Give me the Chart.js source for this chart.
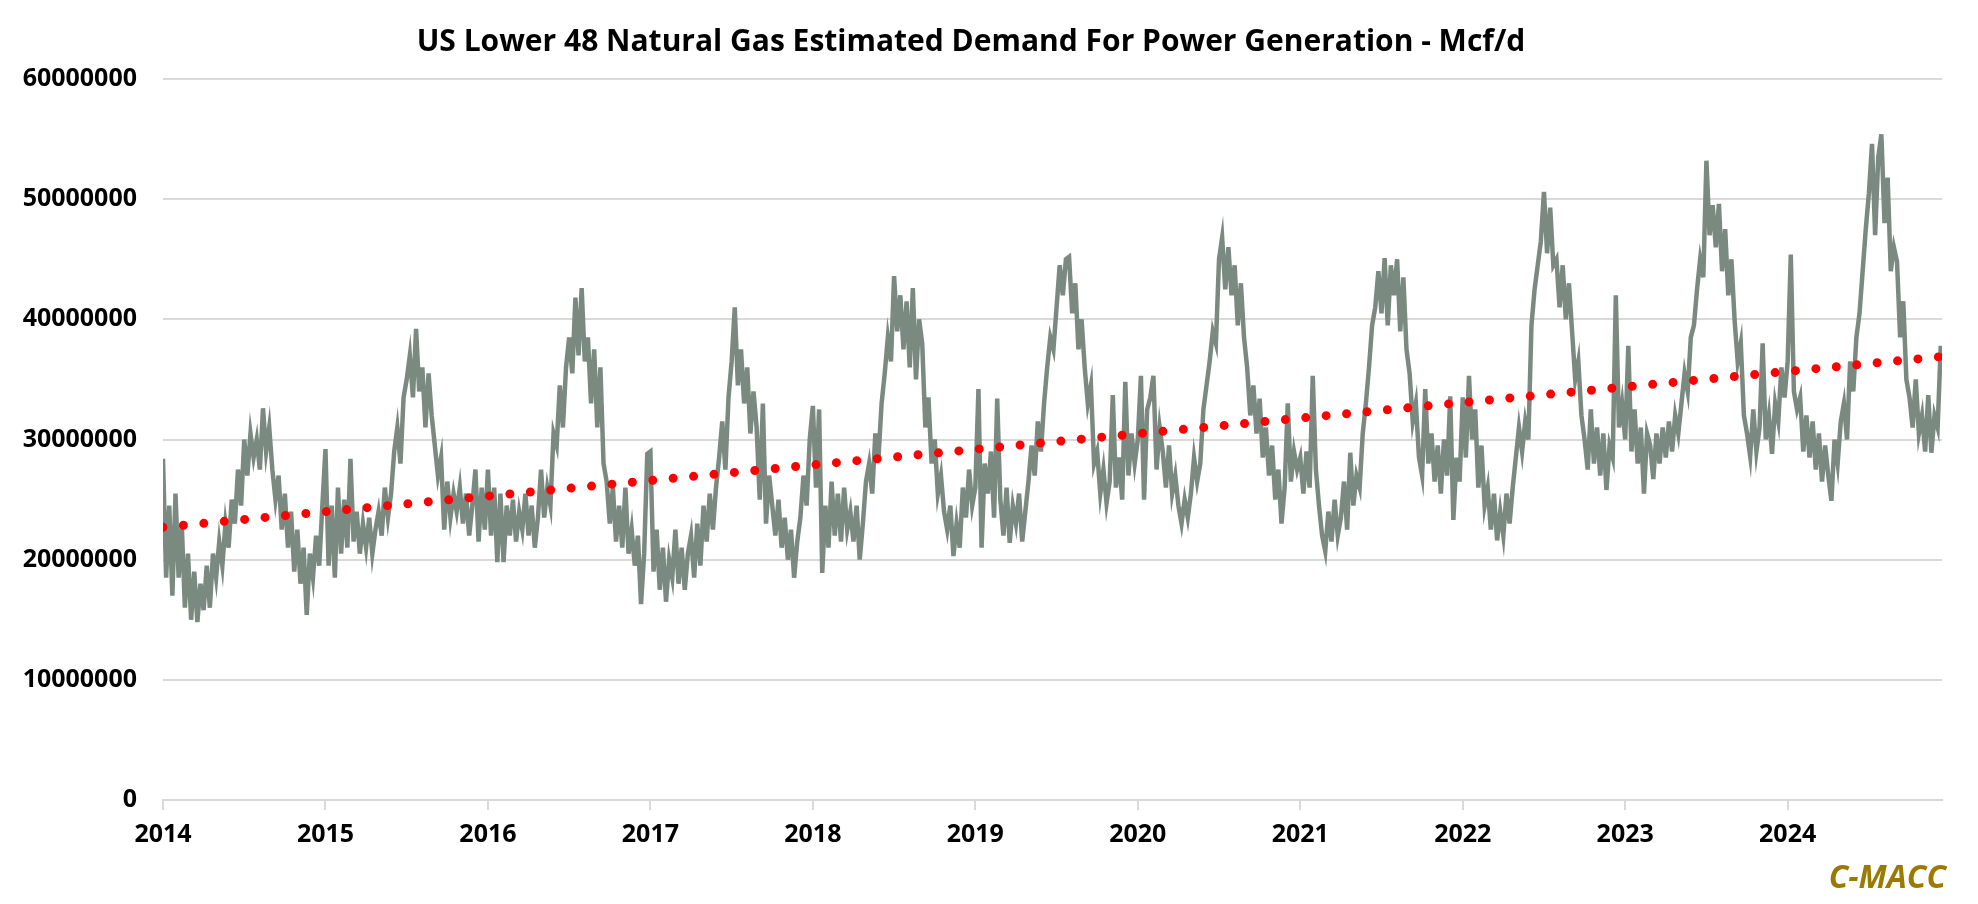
<!DOCTYPE html>
<html>
<head>
<meta charset="utf-8">
<title>US Lower 48 Natural Gas Estimated Demand For Power Generation</title>
<script src="https://cdn.jsdelivr.net/npm/chart.js@4.4.0/dist/chart.umd.min.js"></script>
<style>
  html, body { margin: 0; padding: 0; background: #fff; }
  #wrap { width: 1978px; height: 904px; }
</style>
</head>
<body>
<div id="wrap"><canvas id="gasChart" width="1978" height="904"></canvas></div>
<script>
// Weekly values, in million Mcf/d (Jan -> Dec)
const years = [2014, 2015, 2016, 2017, 2018, 2019, 2020, 2021, 2022, 2023, 2024];
const demand2014 = [28.4, 18.5, 24.5, 17.0, 25.5, 18.5, 23.0, 16.0, 20.5, 15.0, 19.0, 14.8, 18.0, 15.8, 19.5, 16.0, 20.5, 18.5, 21.5, 19.5, 23.0, 21.0, 25.0, 23.0, 27.5, 24.5, 30.0, 27.0, 30.5, 28.5, 30.0, 27.5, 32.6, 29.0, 31.0, 27.5, 25.0, 27.0, 22.5, 25.5, 21.0, 24.0, 19.0, 22.5, 18.0, 21.0, 15.4, 20.5, 18.5, 22.0, 19.5, 24.5];
const demand2015 = [29.2, 19.5, 24.5, 18.5, 26.0, 20.5, 25.0, 21.0, 28.4, 21.5, 24.0, 20.5, 23.0, 21.0, 23.5, 20.5, 22.5, 24.0, 22.0, 26.0, 23.5, 25.5, 29.0, 31.0, 28.0, 33.5, 35.0, 37.0, 33.5, 39.2, 34.0, 36.0, 31.0, 35.5, 32.0, 29.5, 27.0, 28.5, 22.5, 26.5, 23.5, 25.5, 24.0, 26.0, 23.0, 25.5, 22.0, 24.5, 27.5, 21.5, 26.0, 22.5];
const demand2016 = [27.5, 22.0, 26.0, 19.8, 25.5, 19.8, 24.5, 22.0, 25.0, 21.5, 24.0, 22.5, 25.5, 22.0, 24.5, 21.0, 23.5, 27.5, 23.5, 26.0, 24.5, 30.5, 29.5, 34.5, 31.0, 36.0, 38.5, 35.5, 41.8, 37.0, 42.6, 36.5, 38.5, 33.0, 37.5, 31.0, 36.0, 28.0, 26.5, 23.0, 26.0, 21.5, 24.5, 21.0, 26.0, 20.5, 22.5, 19.5, 22.0, 16.3, 20.5, 28.8];
const demand2017 = [29.0, 19.0, 22.5, 17.5, 21.0, 16.5, 20.0, 18.5, 22.5, 18.0, 21.0, 17.5, 20.5, 22.0, 18.5, 23.0, 19.5, 24.5, 21.5, 25.5, 22.5, 26.0, 28.5, 31.5, 27.5, 33.5, 36.5, 41.0, 34.5, 37.5, 33.0, 36.0, 30.5, 34.0, 31.0, 25.0, 33.0, 23.0, 27.0, 24.5, 22.0, 25.0, 21.0, 23.5, 20.0, 22.5, 18.5, 21.5, 23.5, 27.0, 24.5, 30.0];
const demand2018 = [32.8, 26.0, 32.5, 18.9, 24.5, 21.0, 26.5, 22.0, 25.5, 21.5, 26.0, 22.5, 24.0, 21.5, 24.5, 20.0, 23.0, 26.5, 28.0, 25.5, 30.5, 28.5, 33.0, 35.5, 38.5, 36.5, 43.6, 39.0, 42.0, 37.5, 41.5, 36.0, 42.6, 35.0, 40.0, 38.0, 31.0, 33.5, 28.0, 30.0, 25.5, 27.0, 24.0, 22.5, 24.5, 20.3, 23.0, 21.0, 26.0, 23.5, 27.5, 24.5];
const demand2019 = [26.0, 34.2, 21.0, 28.0, 25.5, 29.0, 23.5, 33.4, 25.0, 22.0, 26.0, 21.4, 24.5, 23.0, 25.5, 21.5, 24.0, 26.5, 29.5, 27.0, 31.5, 29.0, 33.0, 36.0, 38.5, 37.5, 41.0, 44.5, 42.0, 45.0, 45.2, 40.5, 43.0, 37.5, 40.0, 36.0, 33.0, 34.5, 28.0, 29.0, 25.5, 27.5, 24.7, 26.5, 33.7, 26.0, 28.5, 25.0, 34.8, 27.0, 30.5, 28.0];
const demand2020 = [30.0, 35.3, 25.0, 32.5, 33.5, 35.3, 27.5, 31.0, 29.0, 26.0, 29.5, 25.5, 27.0, 24.5, 23.0, 25.0, 23.5, 25.5, 28.5, 26.5, 28.0, 32.5, 34.5, 36.5, 39.0, 38.0, 45.0, 46.8, 42.5, 46.0, 42.0, 44.5, 39.5, 43.0, 38.5, 36.0, 32.0, 34.5, 30.5, 33.4, 28.5, 31.0, 27.0, 29.5, 25.0, 27.5, 23.0, 26.0, 33.0, 26.5, 29.0, 27.5];
const demand2021 = [28.5, 25.5, 29.0, 26.0, 35.3, 27.5, 24.5, 22.0, 20.7, 24.0, 21.5, 25.0, 22.0, 23.5, 26.5, 22.5, 28.9, 24.5, 27.0, 26.0, 30.5, 33.0, 36.0, 39.5, 41.0, 44.0, 40.5, 45.1, 39.5, 44.5, 42.0, 45.0, 39.0, 43.5, 37.5, 35.5, 31.5, 33.0, 28.5, 27.0, 34.2, 28.0, 30.5, 26.5, 29.5, 25.5, 30.0, 27.0, 33.6, 23.3, 28.5, 26.5];
const demand2022 = [33.5, 28.5, 35.3, 30.0, 32.5, 26.0, 29.5, 24.5, 26.0, 22.5, 25.5, 21.6, 24.0, 22.0, 25.5, 23.0, 26.0, 28.5, 31.0, 29.0, 31.5, 30.0, 39.5, 42.5, 44.5, 46.5, 50.6, 45.5, 49.3, 44.5, 45.0, 41.0, 44.5, 40.0, 43.0, 39.0, 35.0, 36.5, 32.0, 30.0, 27.5, 32.5, 28.0, 31.0, 27.0, 30.5, 25.8, 29.5, 28.5, 42.0, 31.0, 33.0];
const demand2023 = [30.0, 37.8, 29.0, 32.5, 28.0, 31.0, 25.5, 30.5, 29.5, 26.7, 30.5, 28.0, 31.0, 28.5, 31.5, 29.0, 32.0, 30.5, 33.0, 35.5, 34.0, 38.5, 39.5, 42.5, 45.0, 43.5, 53.2, 47.0, 49.5, 46.0, 49.6, 44.0, 47.5, 42.0, 45.0, 40.0, 36.5, 38.0, 32.0, 30.5, 28.6, 32.5, 29.0, 31.0, 38.0, 30.0, 32.0, 28.8, 33.0, 31.5, 36.0, 33.5];
const demand2024 = [36.5, 45.4, 34.0, 32.5, 33.5, 29.0, 32.0, 28.5, 31.5, 27.5, 30.5, 26.5, 29.5, 27.0, 24.9, 30.0, 28.0, 31.5, 33.0, 30.0, 36.5, 34.0, 38.5, 40.5, 44.0, 47.5, 50.5, 54.6, 47.0, 53.5, 55.4, 48.0, 51.8, 44.0, 46.0, 44.8, 38.5, 41.5, 35.0, 33.5, 31.0, 35.0, 30.5, 32.0, 29.0, 33.7, 28.9, 32.0, 31.0, 37.8];

// Linear trend (dotted red), start and end of the series
const trendX = [2014, 2024.95];
const trendValues = [22.7, 36.9];

const yearSeries = [demand2014, demand2015, demand2016, demand2017, demand2018, demand2019,
                    demand2020, demand2021, demand2022, demand2023, demand2024];
const MILLION = 1000000;

// Build points: each weekly value sits at year + week/52
const demandPoints = [];
yearSeries.forEach((vals, k) => {
    vals.forEach((v, i) => {
        demandPoints.push({ x: years[k] + i / 52, y: v * MILLION });
    });
});
const trendPoints = trendX.map((x, i) => ({ x: x, y: trendValues[i] * MILLION }));

Chart.defaults.font.family = '"Open Sans", "DejaVu Sans", sans-serif';
Chart.defaults.color = '#000';

// Brand mark bottom right
const brandMark = {
    id: 'brandMark',
    afterDraw(chart) {
        const ctx = chart.ctx;
        ctx.save();
        ctx.font = 'italic bold 32px "Open Sans", sans-serif';
        ctx.fillStyle = '#9c7a00';
        ctx.textAlign = 'right';
        ctx.textBaseline = 'middle';
        ctx.fillText('C-MACC', chart.chartArea.right + 4, 879);
        ctx.restore();
    }
};

new Chart(document.getElementById('gasChart'), {
    type: 'line',
    data: {
        datasets: [
            {
                label: 'Trend',
                data: trendPoints,
                borderColor: '#ff0000',
                borderWidth: 9,
                borderDash: [0, 20.5],
                borderCapStyle: 'round',
                pointRadius: 0,
                fill: false
            },
            {
                label: 'Demand',
                data: demandPoints,
                borderColor: '#7b8a80',
                borderWidth: 4.5,
                pointRadius: 0,
                tension: 0,
                fill: false
            }
        ]
    },
    options: {
        responsive: false,
        devicePixelRatio: 1,
        animation: false,
        layout: { padding: { left: 0, right: 36, top: 0, bottom: 0 } },
        plugins: {
            legend: { display: false },
            tooltip: { enabled: false },
            title: {
                display: true,
                text: 'US Lower 48 Natural Gas Estimated Demand For Power Generation - Mcf/d',
                font: { size: 30, weight: 'bold' },
                color: '#000',
                padding: { top: 24, bottom: 19 }
            }
        },
        scales: {
            x: {
                type: 'linear',
                min: 2014,
                max: 2024.95,
                afterFit(scale) { scale.height = 104; },
                ticks: {
                    stepSize: 1,
                    includeBounds: false,
                    padding: 10,
                    font: { size: 25, weight: 'bold' },
                    color: '#000',
                    maxRotation: 0,
                    callback: v => Number.isInteger(v) ? String(v) : ''
                },
                grid: {
                    drawOnChartArea: false,
                    drawTicks: true,
                    tickLength: 10,
                    color: '#d9d9d9',
                    lineWidth: 2
                },
                border: { display: true, color: '#d9d9d9', width: 2 }
            },
            y: {
                min: 0,
                max: 60 * MILLION,
                afterFit(scale) { scale.width = 163; },
                ticks: {
                    stepSize: 10 * MILLION,
                    padding: 26,
                    font: { size: 25, weight: 'bold' },
                    color: '#000',
                    callback: v => String(v)
                },
                grid: {
                    drawTicks: false,
                    color: '#d9d9d9',
                    lineWidth: 2
                },
                border: { display: false }
            }
        }
    },
    plugins: [brandMark]
});
</script>
</body>
</html>
